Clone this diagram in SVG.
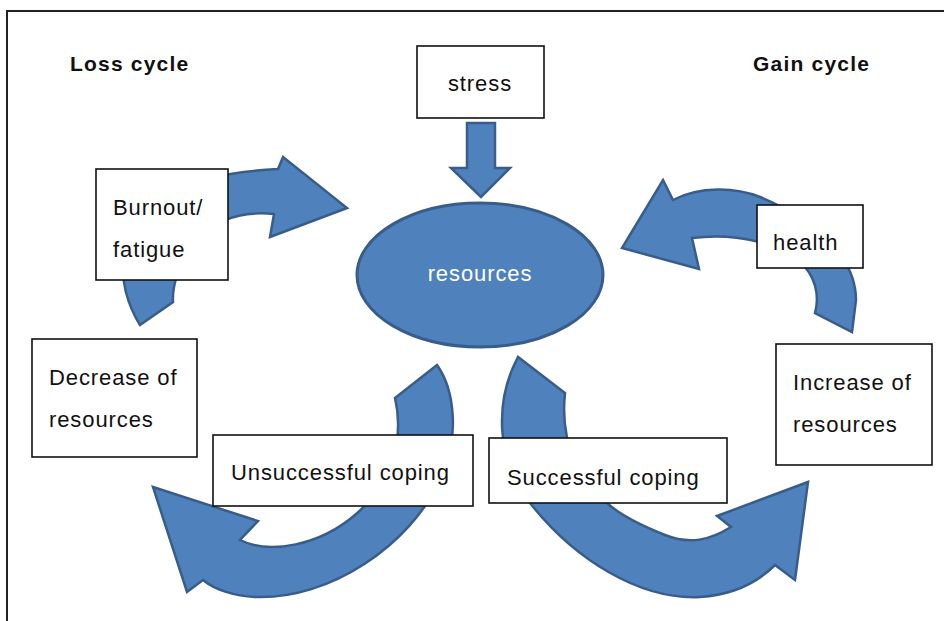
<svg xmlns="http://www.w3.org/2000/svg" width="944" height="621" viewBox="0 0 944 621">
<style>
.t{font-family:"Liberation Sans",Arial,sans-serif;font-size:22px;letter-spacing:0.9px;fill:#111}
.title{font-family:"Liberation Sans",Arial,sans-serif;font-size:21px;font-weight:bold;letter-spacing:1.2px;fill:#111}
.box{fill:#fff;stroke:#111;stroke-width:1.6}
.arr{fill:#4F81BD;stroke:#385D8A;stroke-width:2.5;stroke-linejoin:miter}
</style>
<rect width="944" height="621" fill="#fff"/>
<path d="M7,621 V11 H944" fill="none" stroke="#222" stroke-width="2"/>
<text class="title" x="70" y="71">Loss cycle</text>
<text class="title" x="753" y="71">Gain cycle</text>
<g id="connectors">
<path class="arr" d="M467,123 L495,123 L495,168 L510,168 L481,197 L451,168 L467,168 Z"/>
<path class="arr" d="M140,325 C115,285 110,220 170,190 C200,178 240,171 278,169 L283,157 L347,208 L270,237 L274,214 C235,210 205,225 190,248 C178,268 172,285 173,302 Z"/>
<path class="arr" d="M673,200 C700,186 735,187 760,197 C820,222 856,260 856,300 L852,332 L815,313 C820,295 815,275 800,262 C780,245 740,232 692,238 L699,269 L622,248 L663,180 Z"/>
<path class="arr" d="M437,365 C455,390 460,440 440,480 C410,545 330,600 255,597 C235,596 215,590 203,580 L187,592 L153,487 L258,521 L240,540 C270,555 320,545 355,515 C390,485 405,440 395,398 Z"/>
<path class="arr" d="M518,357 C495,400 495,460 530,503 C575,560 640,600 700,597 C730,595 755,585 775,565 L795,580 L808,482 L717,516 L731,527 C710,540 690,545 665,535 C640,525 620,515 607,503 C575,475 560,440 565,393 Z"/>
</g>
<g id="resources">
<ellipse cx="480" cy="275" rx="123" ry="72" fill="#4F81BD" stroke="#385D8A" stroke-width="3"/>
<text class="t" x="480" y="281" text-anchor="middle" style="fill:#fff">resources</text>
</g>
<g id="stress">
<rect class="box" x="417" y="46" width="127" height="72"/>
<text class="t" x="480" y="91" text-anchor="middle">stress</text>
</g>
<g id="burnout">
<rect class="box" x="96" y="169" width="132" height="111"/>
<text class="t" x="113" y="215">Burnout/</text>
<text class="t" x="113" y="257">fatigue</text>
</g>
<g id="decrease">
<rect class="box" x="32" y="339" width="165" height="118"/>
<text class="t" x="49" y="385">Decrease of</text>
<text class="t" x="49" y="427">resources</text>
</g>
<g id="health">
<rect class="box" x="757" y="205" width="106" height="63"/>
<text class="t" x="773" y="250">health</text>
</g>
<g id="increase">
<rect class="box" x="776" y="344" width="156" height="121"/>
<text class="t" x="793" y="390">Increase of</text>
<text class="t" x="793" y="432">resources</text>
</g>
<g id="unsuccessful">
<rect class="box" x="213" y="435" width="260" height="71"/>
<text class="t" x="231" y="480">Unsuccessful coping</text>
</g>
<g id="successful">
<rect class="box" x="489" y="438" width="238" height="65"/>
<text class="t" x="507" y="485">Successful coping</text>
</g>
</svg>
